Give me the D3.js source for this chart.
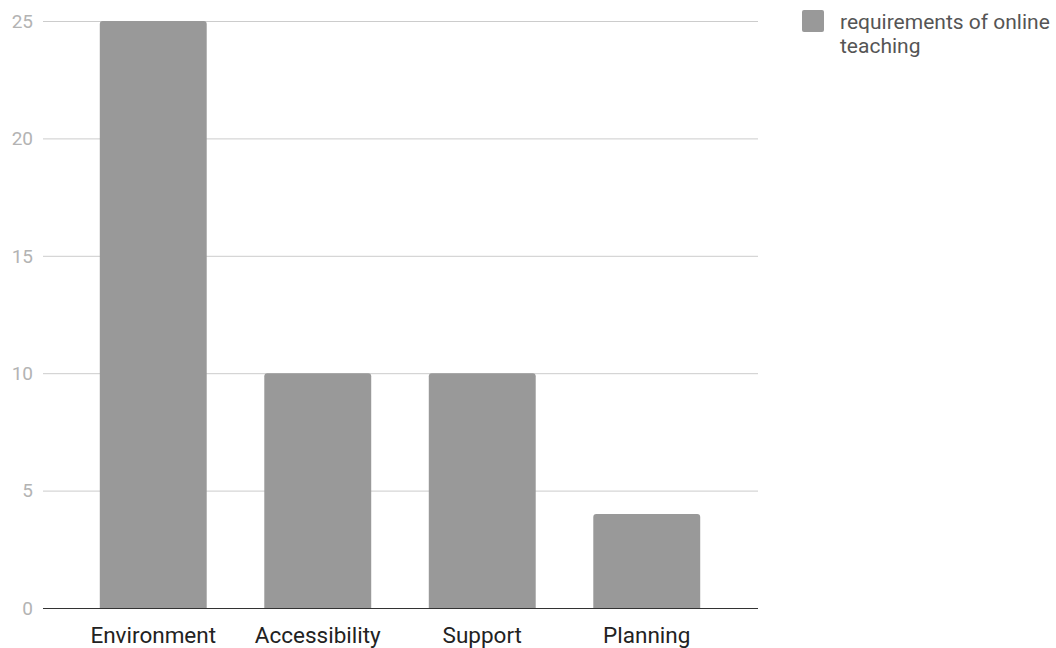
<!DOCTYPE html>
<html>
<head>
<meta charset="utf-8">
<script src="https://cdn.jsdelivr.net/npm/d3@7"></script>
<style>
    body { margin: 0; background: #fff; }
    svg { font-family: Roboto, "Noto Sans", sans-serif; }
</style>
</head>
<body>
<div id="graph"></div>
<script>
"use strict";
(function() {
    const categories = ["Environment", "Accessibility", "Support", "Planning"];
    const values = [25, 10, 10, 4];
    const yTicks = [0, 5, 10, 15, 20, 25];
    const seriesName = ["requirements of online", "teaching"];

    const svgSize = { width: 1056, height: 648 };
    const plot = { left: 43, right: 758, top: 21, bottom: 608 };

    const svg = d3.select("#graph")
        .append("svg")
            .attr("width", svgSize.width)
            .attr("height", svgSize.height)
            .style("display", "block");

    const yScale = d3.scaleLinear()
        .domain([0, 25])
        .range([plot.bottom, plot.top]);

    const xScale = d3.scaleBand()
        .domain(categories)
        .range([71, 729])
        .paddingInner(0.35)
        .paddingOuter(0.175);

    // gridlines
    svg.append("g")
        .selectAll("line")
        .data(yTicks.filter(d => d > 0))
        .enter()
        .append("line")
            .attr("x1", plot.left)
            .attr("x2", plot.right)
            .attr("y1", d => yScale(d) + 0.5)
            .attr("y2", d => yScale(d) + 0.5)
            .attr("stroke", "#cccccc")
            .attr("stroke-width", 1);

    // y tick labels
    svg.append("g")
        .selectAll("text")
        .data(yTicks)
        .enter()
        .append("text")
            .attr("x", 33)
            .attr("y", d => yScale(d))
            .attr("dy", "0.36em")
            .attr("text-anchor", "end")
            .attr("fill", "#b3b3b3")
            .style("font-size", "19px")
            .text(d => d);

    // bars, flat bottom and slightly rounded top
    const r = 3;
    svg.append("g")
        .selectAll("path")
        .data(categories.map((c, i) => ({ cat: c, val: values[i] })))
        .enter()
        .append("path")
            .attr("d", function(d) {
                const x0 = xScale(d.cat);
                const x1 = x0 + xScale.bandwidth();
                const y0 = yScale(0);
                const y1 = yScale(d.val);
                return "M" + x0 + "," + y0 +
                    "V" + (y1 + r) +
                    "Q" + x0 + "," + y1 + " " + (x0 + r) + "," + y1 +
                    "H" + (x1 - r) +
                    "Q" + x1 + "," + y1 + " " + x1 + "," + (y1 + r) +
                    "V" + y0 + "Z";
            })
            .attr("fill", "#999999");

    // baseline
    svg.append("line")
        .attr("x1", plot.left)
        .attr("x2", plot.right)
        .attr("y1", yScale(0) + 0.5)
        .attr("y2", yScale(0) + 0.5)
        .attr("stroke", "#333333")
        .attr("stroke-width", 1.2);

    // category labels
    svg.append("g")
        .selectAll("text")
        .data(categories)
        .enter()
        .append("text")
            .attr("x", d => xScale(d) + xScale.bandwidth() / 2)
            .attr("y", 643)
            .attr("text-anchor", "middle")
            .attr("fill", "#222222")
            .style("font-size", "22.5px")
            .text(d => d);

    // legend
    const legend = svg.append("g");
    legend.append("rect")
        .attr("x", 802)
        .attr("y", 10)
        .attr("width", 22)
        .attr("height", 22)
        .attr("rx", 2)
        .attr("fill", "#999999");
    legend.selectAll("text")
        .data(seriesName)
        .enter()
        .append("text")
            .attr("x", 840)
            .attr("y", (d, i) => 29 + i * 24)
            .attr("fill", "#555555")
            .style("font-size", "21px")
            .text(d => d);
})();
</script>
</body>
</html>
